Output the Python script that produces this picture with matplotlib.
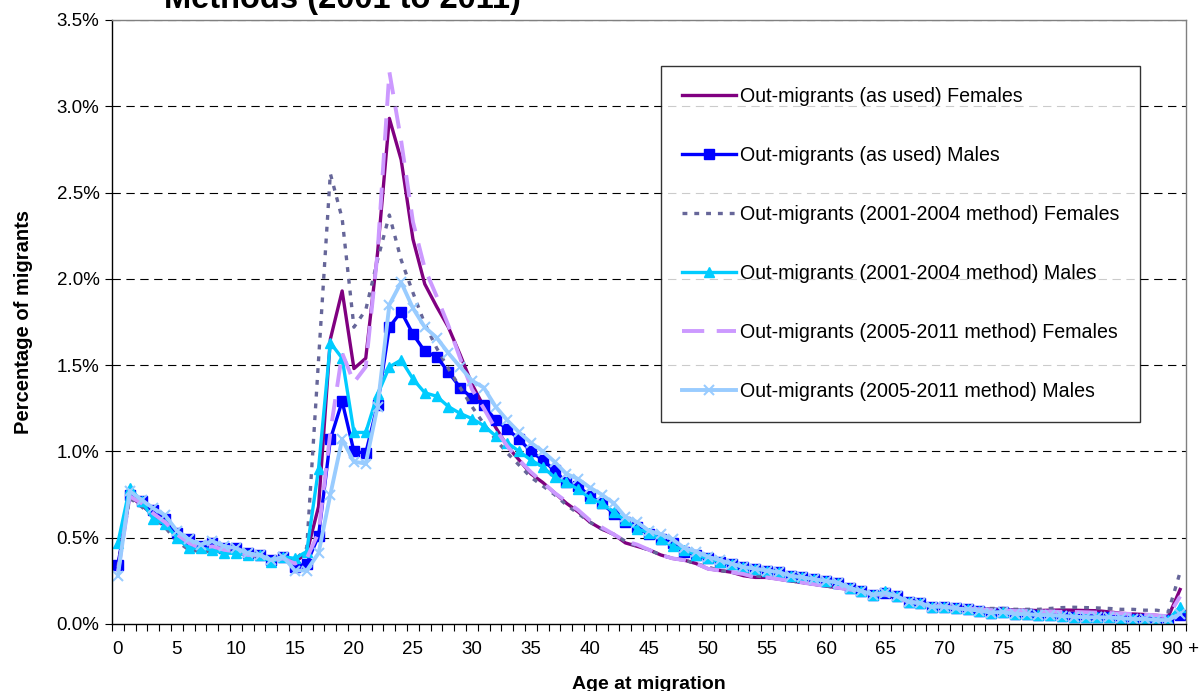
import matplotlib
matplotlib.use("Agg")
import matplotlib.pyplot as plt
import numpy as np

plt.rcParams['font.family'] = ['Liberation Sans', 'DejaVu Sans']
plt.rcParams['lines.scale_dashes'] = False

# ages 0..90 (last one is "90 +")
ages = list(range(91))
tick_ages = list(range(0, 91, 5))
tick_labels = [str(a) for a in tick_ages[:-1]] + ['90 +']

# percentage of migrants
fem_used = [0.33, 0.74, 0.69, 0.63, 0.58, 0.51, 0.46, 0.44, 0.44, 0.43,
            0.42, 0.40, 0.40, 0.37, 0.38, 0.36, 0.41, 0.68, 1.65, 1.93,
            1.48, 1.54, 2.15, 2.93, 2.69, 2.23, 1.97, 1.84, 1.72, 1.56,
            1.39, 1.26, 1.14, 1.03, 0.95, 0.87, 0.82, 0.76, 0.70, 0.65,
            0.59, 0.55, 0.52, 0.47, 0.45, 0.43, 0.40, 0.38, 0.37, 0.35,
            0.32, 0.31, 0.30, 0.28, 0.27, 0.27, 0.26, 0.25, 0.24, 0.23,
            0.22, 0.21, 0.20, 0.19, 0.17, 0.17, 0.15, 0.13, 0.12, 0.11,
            0.10, 0.095, 0.09, 0.088, 0.085, 0.085, 0.08, 0.08, 0.078, 0.08,
            0.081, 0.08, 0.078, 0.077, 0.07, 0.062, 0.058, 0.055, 0.05, 0.043,
            0.20]

male_used = [0.34, 0.75, 0.71, 0.66, 0.61, 0.53, 0.49, 0.45, 0.47, 0.44,
             0.44, 0.41, 0.40, 0.37, 0.39, 0.33, 0.35, 0.51, 1.07, 1.29,
             1.00, 0.99, 1.27, 1.72, 1.81, 1.68, 1.58, 1.55, 1.46, 1.37,
             1.31, 1.27, 1.18, 1.13, 1.07, 1.00, 0.95, 0.89, 0.82, 0.80,
             0.74, 0.70, 0.64, 0.59, 0.56, 0.52, 0.49, 0.47, 0.42, 0.40,
             0.38, 0.36, 0.35, 0.33, 0.32, 0.31, 0.30, 0.28, 0.27, 0.26,
             0.25, 0.24, 0.21, 0.19, 0.17, 0.18, 0.16, 0.13, 0.12, 0.10,
             0.10, 0.09, 0.085, 0.077, 0.066, 0.07, 0.058, 0.058, 0.052, 0.052,
             0.046, 0.043, 0.039, 0.039, 0.038, 0.033, 0.029, 0.029, 0.023, 0.023,
             0.05]

fem_0104 = [0.33, 0.73, 0.68, 0.62, 0.56, 0.48, 0.43, 0.42, 0.42, 0.42,
            0.41, 0.40, 0.39, 0.37, 0.38, 0.37, 0.44, 1.53, 2.61, 2.35,
            1.72, 1.82, 2.11, 2.37, 2.11, 1.92, 1.74, 1.60, 1.48, 1.37,
            1.26, 1.16, 1.07, 0.99, 0.92, 0.85, 0.80, 0.75, 0.69, 0.64,
            0.59, 0.55, 0.52, 0.48, 0.45, 0.43, 0.40, 0.38, 0.37, 0.35,
            0.33, 0.31, 0.30, 0.29, 0.28, 0.27, 0.26, 0.25, 0.24, 0.23,
            0.22, 0.21, 0.20, 0.19, 0.18, 0.17, 0.15, 0.14, 0.12, 0.11,
            0.105, 0.10, 0.095, 0.09, 0.09, 0.09, 0.085, 0.085, 0.085, 0.09,
            0.095, 0.097, 0.095, 0.093, 0.09, 0.085, 0.085, 0.08, 0.08, 0.07,
            0.30]

male_0104 = [0.47, 0.79, 0.71, 0.61, 0.58, 0.50, 0.44, 0.44, 0.43, 0.41,
             0.41, 0.40, 0.40, 0.36, 0.39, 0.38, 0.42, 0.90, 1.63, 1.54,
             1.11, 1.11, 1.33, 1.49, 1.53, 1.42, 1.34, 1.32, 1.26, 1.22,
             1.19, 1.15, 1.09, 1.05, 1.00, 0.95, 0.91, 0.85, 0.82, 0.78,
             0.73, 0.70, 0.65, 0.60, 0.55, 0.53, 0.49, 0.45, 0.43, 0.40,
             0.38, 0.36, 0.35, 0.33, 0.32, 0.31, 0.30, 0.28, 0.27, 0.26,
             0.25, 0.24, 0.21, 0.19, 0.17, 0.19, 0.16, 0.13, 0.12, 0.10,
             0.10, 0.09, 0.085, 0.077, 0.066, 0.07, 0.058, 0.058, 0.052, 0.052,
             0.046, 0.043, 0.039, 0.039, 0.038, 0.033, 0.029, 0.029, 0.023, 0.023,
             0.10]

fem_0511 = [0.30, 0.74, 0.70, 0.64, 0.59, 0.52, 0.47, 0.44, 0.45, 0.43,
            0.42, 0.40, 0.40, 0.37, 0.38, 0.35, 0.38, 0.53, 1.11, 1.57,
            1.40, 1.49, 2.15, 3.20, 2.80, 2.33, 2.06, 1.90, 1.73, 1.54,
            1.36, 1.25, 1.13, 1.03, 0.95, 0.88, 0.82, 0.76, 0.71, 0.66,
            0.60, 0.56, 0.52, 0.48, 0.46, 0.43, 0.40, 0.38, 0.37, 0.35,
            0.32, 0.31, 0.30, 0.29, 0.27, 0.27, 0.26, 0.25, 0.24, 0.23,
            0.22, 0.21, 0.20, 0.19, 0.17, 0.17, 0.15, 0.13, 0.12, 0.11,
            0.10, 0.095, 0.09, 0.085, 0.08, 0.08, 0.075, 0.075, 0.072, 0.072,
            0.07, 0.07, 0.068, 0.066, 0.064, 0.06, 0.058, 0.055, 0.05, 0.045,
            0.16]

male_0511 = [0.28, 0.77, 0.72, 0.67, 0.63, 0.54, 0.49, 0.46, 0.48, 0.45,
             0.44, 0.41, 0.40, 0.37, 0.39, 0.31, 0.31, 0.41, 0.75, 1.07,
             0.94, 0.93, 1.26, 1.85, 1.98, 1.83, 1.72, 1.66, 1.57, 1.49,
             1.41, 1.37, 1.26, 1.18, 1.11, 1.05, 1.00, 0.94, 0.87, 0.84,
             0.79, 0.75, 0.70, 0.62, 0.59, 0.54, 0.52, 0.49, 0.44, 0.42,
             0.39, 0.37, 0.35, 0.33, 0.32, 0.31, 0.30, 0.28, 0.27, 0.26,
             0.25, 0.24, 0.21, 0.19, 0.17, 0.18, 0.16, 0.13, 0.12, 0.10,
             0.10, 0.09, 0.085, 0.077, 0.066, 0.07, 0.058, 0.058, 0.052, 0.052,
             0.046, 0.043, 0.039, 0.039, 0.038, 0.033, 0.029, 0.029, 0.023, 0.023,
             0.06]

fig = plt.figure(figsize=(12.02, 6.91), dpi=100)
ax = fig.add_axes([112 / 1202, 1 - 624 / 691, 1074 / 1202, 604 / 691])

# dashed black gridlines
for v in np.arange(0.5, 3.51, 0.5):
    ax.axhline(v, color='black', lw=0.8, ls=(0, (6, 4)), zorder=0)

ax.plot(ages, fem_used, color='#800080', lw=2.4,
        label='Out-migrants (as used) Females')
ax.plot(ages, male_used, color='#0000FF', lw=2.4, marker='s', ms=7,
        label='Out-migrants (as used) Males')
ax.plot(ages, fem_0104, color='#666699', lw=2.4, ls=(0, (3.5, 5)),
        label='Out-migrants (2001-2004 method) Females')
ax.plot(ages, male_0104, color='#00CCFF', lw=2.4, marker='^', ms=7.5,
        label='Out-migrants (2001-2004 method) Males')
ax.plot(ages, fem_0511, color='#CC99FF', lw=2.8, ls=(0, (16, 9)),
        label='Out-migrants (2005-2011 method) Females')
ax.plot(ages, male_0511, color='#99CCFF', lw=2.8, marker='x', ms=7, mew=1.5,
        label='Out-migrants (2005-2011 method) Males')

ax.set_xlim(-0.5, 90.5)
ax.set_ylim(0, 3.5)
ax.set_yticks(np.arange(0, 3.51, 0.5))
ax.set_yticklabels(['%.1f%%' % v for v in np.arange(0, 3.51, 0.5)])
ax.set_xticks(tick_ages)
ax.set_xticklabels(tick_labels)
ax.set_xticks(np.arange(-0.5, 91, 1), minor=True)
ax.tick_params(axis='x', which='major', length=0, pad=12, labelsize=13.5)
ax.tick_params(axis='x', which='minor', length=5, direction='out', width=0.8)
ax.tick_params(axis='y', length=5, direction='out', width=0.8, pad=4, labelsize=13.5)

for side in ['left', 'bottom']:
    ax.spines[side].set_color('black')
    ax.spines[side].set_linewidth(1)
for side in ['top', 'right']:
    ax.spines[side].set_color('#808080')
    ax.spines[side].set_linewidth(1)

ax.set_xlabel('Age at migration', fontsize=14, fontweight='bold', labelpad=13)
ax.set_ylabel('Percentage of migrants', fontsize=14.5, fontweight='bold', labelpad=17)

fig.text(164 / 1202, 1 - 8 / 691, 'Methods (2001 to 2011)', fontsize=23.5,
         fontweight='bold', va='baseline', ha='left')

leg = ax.legend(loc='upper left', bbox_to_anchor=((661 - 112) / 1074, (624 - 66) / 604),
                fontsize=14.1, frameon=True, fancybox=False, edgecolor='black',
                labelspacing=2.05, handlelength=2.8, handletextpad=0.2,
                borderpad=1.05, borderaxespad=0)
leg.get_frame().set_linewidth(1)

fig.savefig('out.png', dpi=100)
